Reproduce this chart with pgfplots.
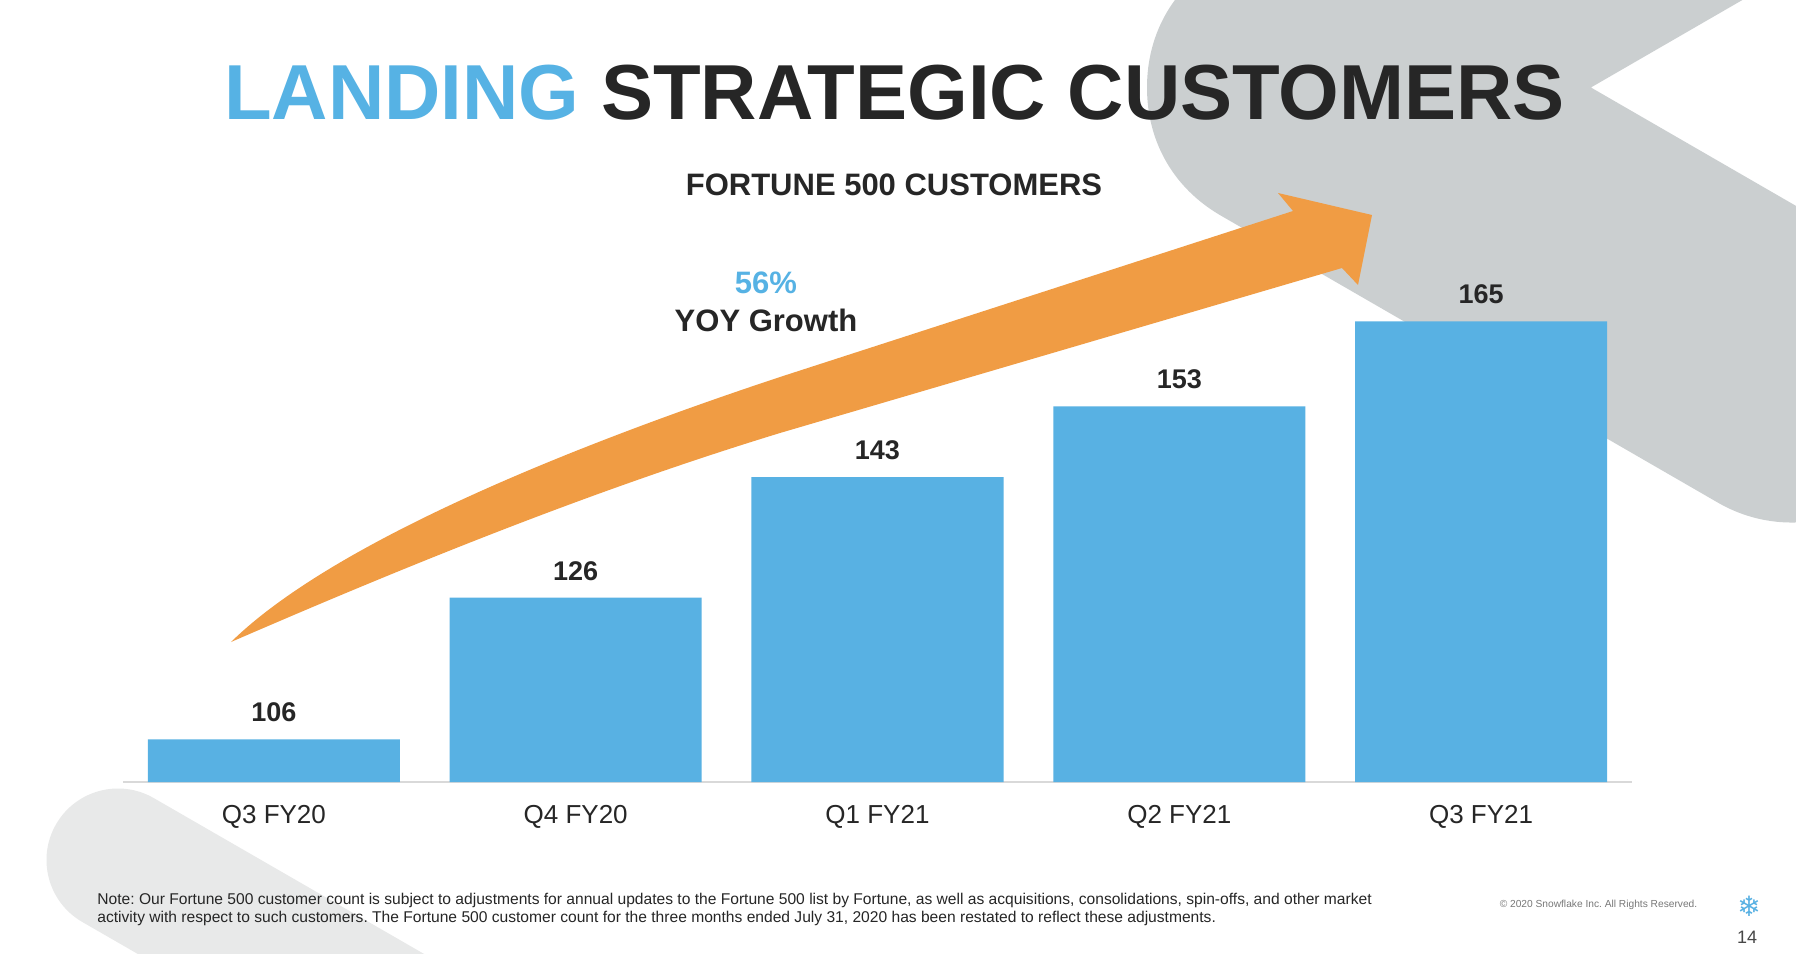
\documentclass[border=0pt]{standalone}
\usepackage{pgfplots}
\pgfplotsset{compat=1.18}
\usepackage{fontspec}
\setmainfont{Liberation Sans}
\newfontfamily\dejavu{DejaVu Sans}
\frenchspacing
\definecolor{barblue}{RGB}{88,177,227}
\definecolor{titleblue}{RGB}{86,178,228}
\definecolor{darktext}{RGB}{38,38,38}
\definecolor{arroworange}{RGB}{240,156,68}
\definecolor{shapegrey}{RGB}{203,207,208}
\definecolor{lightgrey}{RGB}{232,233,233}
\definecolor{axisgrey}{RGB}{217,217,217}
\definecolor{notegrey}{RGB}{120,120,120}
\begin{document}
\begin{tikzpicture}
\useasboundingbox (0pt,0pt) rectangle (898pt,-477pt);
\begin{scope}[x=0.5pt,y=-0.5pt]
\clip (0,0) rectangle (1796,954);
\fill[white] (0,0) rectangle (1796,954);
% light grey band bottom left
\draw[lightgrey, line width=71.5pt, line cap=round] (118,860) -- (640,1161);
% grey chevron top right
\draw[shapegrey, line width=148pt, line cap=round, line join=round]
  (2074,-362.5) -- (1295,87.5) -- (1792,374.5);
% orange arrow
\fill[arroworange] (231,642) .. controls (330,545) and (560,450) .. (780,377)
  -- (1293,211) -- (1278,193) -- (1372,215) -- (1358,285) -- (1342,268)
  -- (780,433) .. controls (600,488) and (420,560) .. (231,642) -- cycle;
% title
\node[anchor=base, inner sep=0pt, text=darktext, font=\fontsize{39pt}{46pt}\selectfont\bfseries]
  at (894.5,119) {{\color{titleblue}LANDING} STRATEGIC CUSTOMERS};
\node[anchor=base, inner sep=0pt, text=darktext, font=\fontsize{15.5pt}{18pt}\selectfont\bfseries]
  at (894,195) {FORTUNE 500 CUSTOMERS};
\node[anchor=base, inner sep=0pt, text=titleblue, font=\fontsize{15.5pt}{18pt}\selectfont\bfseries]
  at (766,293) {56\%};
\node[anchor=base, inner sep=0pt, text=darktext, font=\fontsize{15.5pt}{18pt}\selectfont\bfseries]
  at (766,331) {YOY Growth};
% footer
\node[anchor=base west, inner sep=0pt, text=darktext, font=\fontsize{7.8pt}{9pt}\selectfont]
  at (97,904) {Note: Our Fortune 500 customer count is subject to adjustments for annual updates to the Fortune 500 list by Fortune, as well as acquisitions, consolidations, spin-offs, and other market};
\node[anchor=base west, inner sep=0pt, text=darktext, font=\fontsize{7.8pt}{9pt}\selectfont]
  at (97,922.7) {activity with respect to such customers. The Fortune 500 customer count for the three months ended July 31, 2020 has been restated to reflect these adjustments.};
\node[anchor=base, inner sep=0pt, text=notegrey, font=\fontsize{5.1pt}{6pt}\selectfont]
  at (1598.5,907.5) {© 2020 Snowflake Inc. All Rights Reserved.};
\node[anchor=center, inner sep=0pt, text=barblue, font=\dejavu\fontsize{14pt}{16pt}\selectfont]
  at (1749,906) {❄};
\node[anchor=center, inner sep=0pt, text=darktext!85, font=\fontsize{9pt}{11pt}\selectfont]
  at (1747,937) {14};
\end{scope}
\begin{axis}[
  at={(61.5pt,-391pt)}, anchor=south west,
  scale only axis, width=754.5pt, height=283.5pt,
  xmin=-0.5, xmax=4.5, ymin=100, ymax=180,
  ybar, bar width=126pt, clip=false,
  axis x line*=bottom, axis y line=none,
  x axis line style={-, draw=axisgrey, line width=1pt},
  xtick={0,1,2,3,4},
  xticklabels={Q3 FY20, Q4 FY20, Q1 FY21, Q2 FY21, Q3 FY21},
  major tick length=0pt, xtick style={draw=none},
  xticklabel style={anchor=base, inner sep=0pt, yshift=-20.5pt, text=darktext, font=\fontsize{13pt}{15pt}\selectfont},
  /pgf/number format/assume math mode=true,
  nodes near coords,
  nodes near coords style={anchor=south, inner sep=0pt, yshift=8.5pt, text=darktext, font=\fontsize{13.5pt}{16pt}\selectfont\bfseries},
]
\addplot[fill=barblue, draw=none] coordinates {(0,106) (1,126) (2,143) (3,153) (4,165)};
\end{axis}
\end{tikzpicture}
\end{document}
